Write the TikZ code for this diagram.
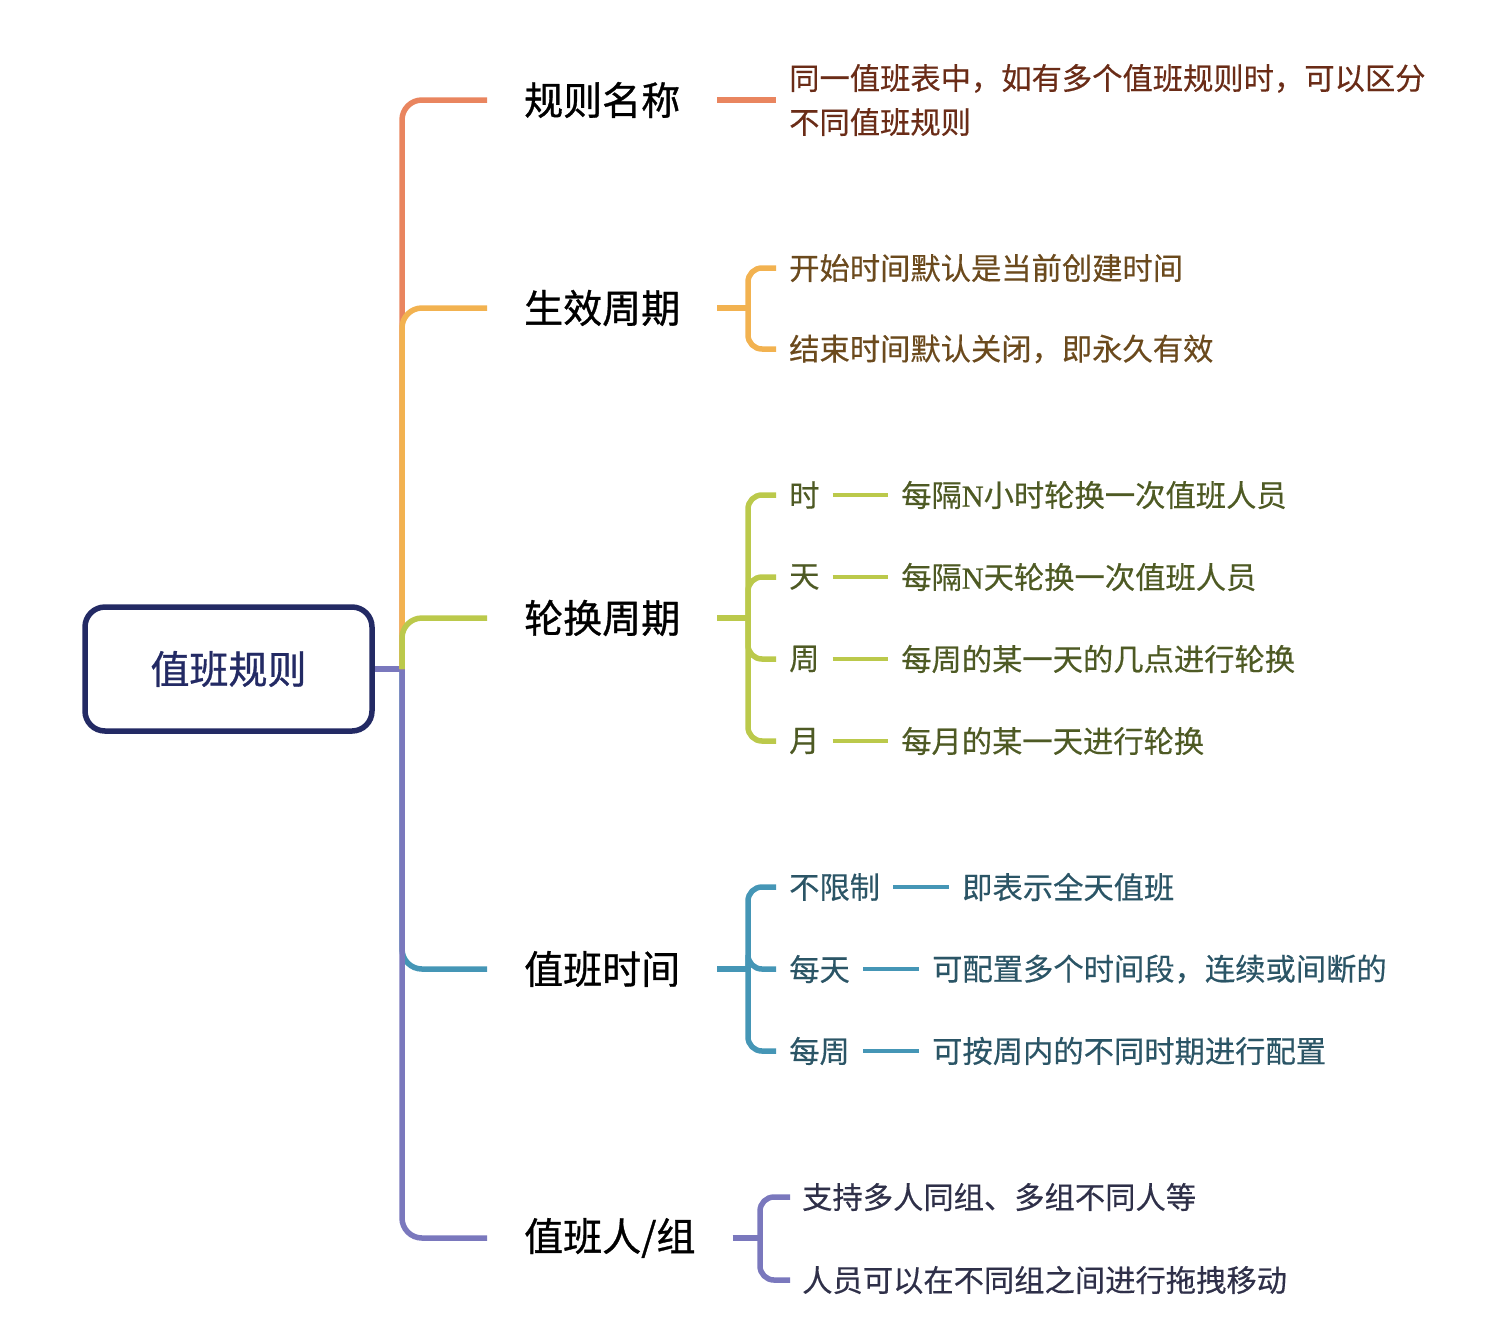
\documentclass[tikz,border=0pt]{standalone}
\usepackage{fontspec}
\setmainfont{Noto Sans CJK SC}
\newfontfamily\mainface[FakeBold=0.8]{Noto Sans CJK SC}
\newfontfamily\subface[FakeBold=0.4]{Noto Sans CJK SC}
\newfontfamily\latinN[FakeBold=0.6]{Liberation Serif}
\definecolor{lA}{HTML}{E9855F}\definecolor{tA}{HTML}{6A2C17}
\definecolor{lB}{HTML}{F2B250}\definecolor{tB}{HTML}{6B4A1D}
\definecolor{lC}{HTML}{BBC94B}\definecolor{tC}{HTML}{4E5A24}
\definecolor{lD}{HTML}{4596B6}\definecolor{tD}{HTML}{2B5566}
\definecolor{lE}{HTML}{7A78BD}\definecolor{tE}{HTML}{2F3049}
\definecolor{navy}{HTML}{232A64}
\begin{document}
\begin{tikzpicture}[x=1pt,y=-1pt,
  rootbox/.style={draw=navy,line width=5.5pt,rounded corners=20pt,minimum width=287pt,minimum height=124pt,text=navy,font=\mainface\fontsize{39}{47}\selectfont,inner sep=0pt},
  mainlab/.style={anchor=west,inner xsep=37pt,inner ysep=0pt,font=\mainface\fontsize{39}{47}\selectfont,text=black},
  sublab/.style={anchor=west,inner xsep=13pt,inner ysep=0pt,font=\subface\fontsize{30.3}{44}\selectfont},
  branch/.style={line width=5.5pt,rounded corners=20pt},
  bracket/.style={line width=5.5pt,rounded corners=14pt},
  dashline/.style={line width=4.5pt}]
\useasboundingbox (0,0) rectangle (1504,1334);

% root
\node[rootbox] (root) at (228.5,669) {值班规则};
\coordinate (J) at (402,669);

% main labels
\node[mainlab] (n1) at (487,100) {规则名称};
\node[mainlab] (n2) at (487,308) {生效周期};
\node[mainlab] (n3) at (487,618) {轮换周期};
\node[mainlab] (n4) at (487,969) {值班时间};
\node[mainlab] (n5) at (487,1238) {值班人/组};

% main branches
\draw[branch,lD] (J) |- (n4.west);
\draw[line width=5.5pt,lE] (root.east) -- (J);
\draw[branch,lE] (J) |- (n5.west);
\draw[branch,lA] (J) |- (n1.west);
\draw[branch,lB] (J) |- (n2.west);
\draw[branch,lC] (J) |- (n3.west);

% branch 1
\node[sublab,text=tA,align=left] (d1) at (776,100) {同一值班表中，如有多个值班规则时，可以区分\\不同值班规则};
\draw[line width=5.5pt,lA] (n1.east) -- (d1.west);

% branch 2
\coordinate (k2) at (748,308);
\node[sublab,text=tB] (d21) at (776,268) {开始时间默认是当前创建时间};
\node[sublab,text=tB] (d22) at (776,349) {结束时间默认关闭，即永久有效};
\draw[line width=5.5pt,lB] (n2.east) -- (k2);
\draw[bracket,lB] (k2) |- (d21.west);
\draw[bracket,lB] (k2) |- (d22.west);

% branch 3
\coordinate (k3) at (748,618);
\node[sublab,text=tC] (d31) at (776,495) {时};
\node[sublab,text=tC] (d32) at (776,577) {天};
\node[sublab,text=tC] (d33) at (776,659) {周};
\node[sublab,text=tC] (d34) at (776,741) {月};
\node[sublab,text=tC] (e31) at (888,495) {每隔{\latinN N}小时轮换一次值班人员};
\node[sublab,text=tC] (e32) at (888,577) {每隔{\latinN N}天轮换一次值班人员};
\node[sublab,text=tC] (e33) at (888,659) {每周的某一天的几点进行轮换};
\node[sublab,text=tC] (e34) at (888,741) {每月的某一天进行轮换};
\draw[line width=5.5pt,lC] (n3.east) -- (k3);
\foreach \i in {31,32,33,34}{
  \draw[bracket,lC] (k3) |- (d\i.west);
  \draw[dashline,lC] (d\i.east) -- (e\i.west);
}

% branch 4
\coordinate (k4) at (748,969);
\node[sublab,text=tD] (d41) at (776,887) {不限制};
\node[sublab,text=tD] (d42) at (776,969) {每天};
\node[sublab,text=tD] (d43) at (776,1051) {每周};
\node[sublab,text=tD] (e41) at (949,887) {即表示全天值班};
\node[sublab,text=tD] (e42) at (919,969) {可配置多个时间段，连续或间断的};
\node[sublab,text=tD] (e43) at (919,1051) {可按周内的不同时期进行配置};
\draw[line width=5.5pt,lD] (n4.east) -- (k4);
\foreach \i in {41,42,43}{
  \draw[bracket,lD] (k4) |- (d\i.west);
  \draw[dashline,lD] (d\i.east) -- (e\i.west);
}

% branch 5
\coordinate (k5) at (760,1238);
\node[sublab,text=tE,inner xsep=12pt] (d51) at (790,1197) {支持多人同组、多组不同人等};
\node[sublab,text=tE,inner xsep=12pt] (d52) at (790,1280) {人员可以在不同组之间进行拖拽移动};
\draw[line width=5.5pt,lE] (n5.east) -- (k5);
\draw[bracket,lE] (k5) |- (d51.west);
\draw[bracket,lE] (k5) |- (d52.west);
\end{tikzpicture}
\end{document}
